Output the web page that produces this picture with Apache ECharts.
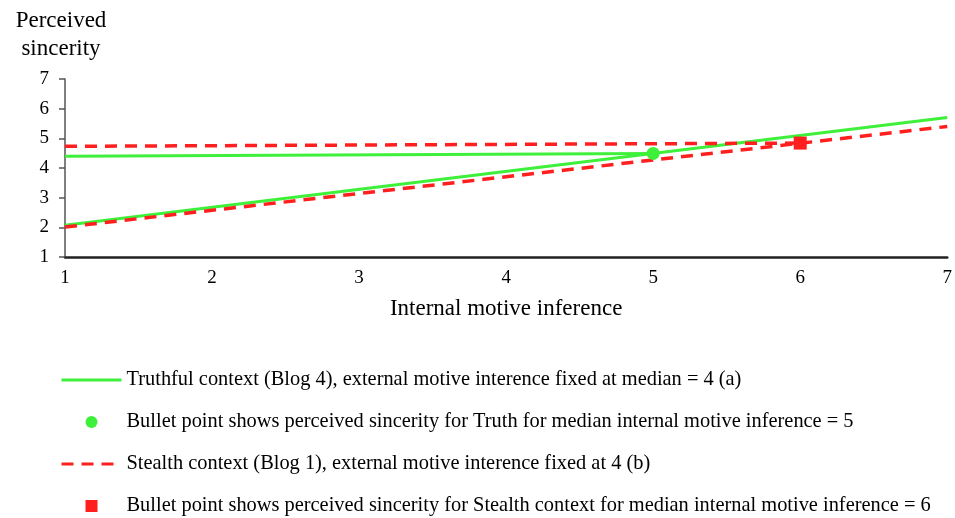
<!DOCTYPE html>
<html>
<head>
<meta charset="utf-8">
<script src="https://cdn.jsdelivr.net/npm/echarts@6/dist/echarts.min.js"></script>
<style>
html,body{margin:0;padding:0;background:#fff;}
#chart{width:955px;height:518px;}
</style>
</head>
<body>
<div id="chart"></div>
<script>
// ---- data ----
var xTicks = [1, 2, 3, 4, 5, 6, 7];
var truthFlat = [[1, 4.40], [5, 4.49]];
var truthSlope = [[1, 2.07], [7, 5.70]];
var stealthFlat = [[1, 4.73], [6, 4.84]];
var stealthSlope = [[1, 2.01], [7, 5.40]];
var truthPoint = [[5, 4.49]];
var stealthPoint = [[6, 4.84]];

var nameTruth = 'Truthful context (Blog 4), external motive interence fixed at median = 4 (a)';
var nameTruthPt = 'Bullet point shows perceived sincerity for Truth for median internal motive inference = 5';
var nameStealth = 'Stealth context (Blog 1), external motive interence fixed at 4 (b)';
var nameStealthPt = 'Bullet point shows perceived sincerity for Stealth context for median internal motive inference = 6';

var GREEN = '#3ef03a';
var RED = '#ff1f1f';
var FONT = '"Liberation Serif", "Times New Roman", serif';

var chart = echarts.init(document.getElementById('chart'), null, {renderer: 'canvas'});
chart.setOption({
  animation: false,
  backgroundColor: '#fff',
  textStyle: {fontFamily: FONT, color: '#000'},
  grid: {left: 65, right: 5, top: 79, bottom: 261, containLabel: false},
  xAxis: {
    type: 'value', min: xTicks[0], max: xTicks[xTicks.length - 1], interval: 1,
    name: 'Internal motive inference', nameLocation: 'middle', nameGap: 40,
    nameTextStyle: {fontFamily: FONT, fontSize: 23, color: '#000'},
    axisLine: {lineStyle: {color: '#222', width: 2.5}},
    axisTick: {show: false},
    axisLabel: {fontFamily: FONT, fontSize: 19, color: '#000', margin: 12},
    splitLine: {show: false}
  },
  yAxis: {
    type: 'value', min: 1, max: 7, interval: 1,
    name: 'Perceived\nsincerity', nameLocation: 'end', nameGap: 16,
    nameTextStyle: {fontFamily: FONT, fontSize: 23, color: '#000', lineHeight: 28, align: 'center', padding: [0, 8, 0, 0]},
    axisLine: {show: true, lineStyle: {color: '#555', width: 1.5}},
    axisTick: {show: true, length: 6, lineStyle: {color: '#555', width: 1.5}},
    axisLabel: {fontFamily: FONT, fontSize: 19, color: '#000', margin: 16},
    splitLine: {show: false}
  },
  legend: {
    orient: 'vertical', left: 60, top: 370, height: 148, padding: 0,
    itemWidth: 60, itemHeight: 12, itemGap: 22, symbolKeepAspect: true,
    lineStyle: {width: 3},
    textStyle: {fontFamily: FONT, fontSize: 20.4, color: '#000', lineHeight: 20},
    data: [
      {name: nameTruth, itemStyle: {opacity: 0}},
      {name: nameTruthPt, icon: 'circle'},
      {name: nameStealth, itemStyle: {opacity: 0}},
      {name: nameStealthPt, icon: 'path://M0,0L10,0L10,10L0,10Z'}
    ]
  },
  series: [
    {name: nameTruth, type: 'line', data: truthFlat, symbol: 'none', z: 2,
     lineStyle: {color: GREEN, width: 3}, itemStyle: {color: GREEN}},
    {name: nameTruth, type: 'line', data: truthSlope, symbol: 'none', z: 2,
     lineStyle: {color: GREEN, width: 3}, itemStyle: {color: GREEN}},
    {name: nameStealth, type: 'line', data: stealthFlat, symbol: 'none', z: 3,
     lineStyle: {color: RED, width: 3.5, type: [12, 8]}, itemStyle: {color: RED}},
    {name: nameStealth, type: 'line', data: stealthSlope, symbol: 'none', z: 3,
     lineStyle: {color: RED, width: 3.5, type: [12, 8]}, itemStyle: {color: RED}},
    {name: nameTruthPt, type: 'scatter', data: truthPoint, symbol: 'circle', symbolSize: 13, z: 5,
     itemStyle: {color: GREEN, opacity: 1}},
    {name: nameStealthPt, type: 'scatter', data: stealthPoint, symbol: 'rect', symbolSize: 13, z: 5,
     itemStyle: {color: RED, opacity: 1}}
  ]
});
</script>
</body>
</html>
